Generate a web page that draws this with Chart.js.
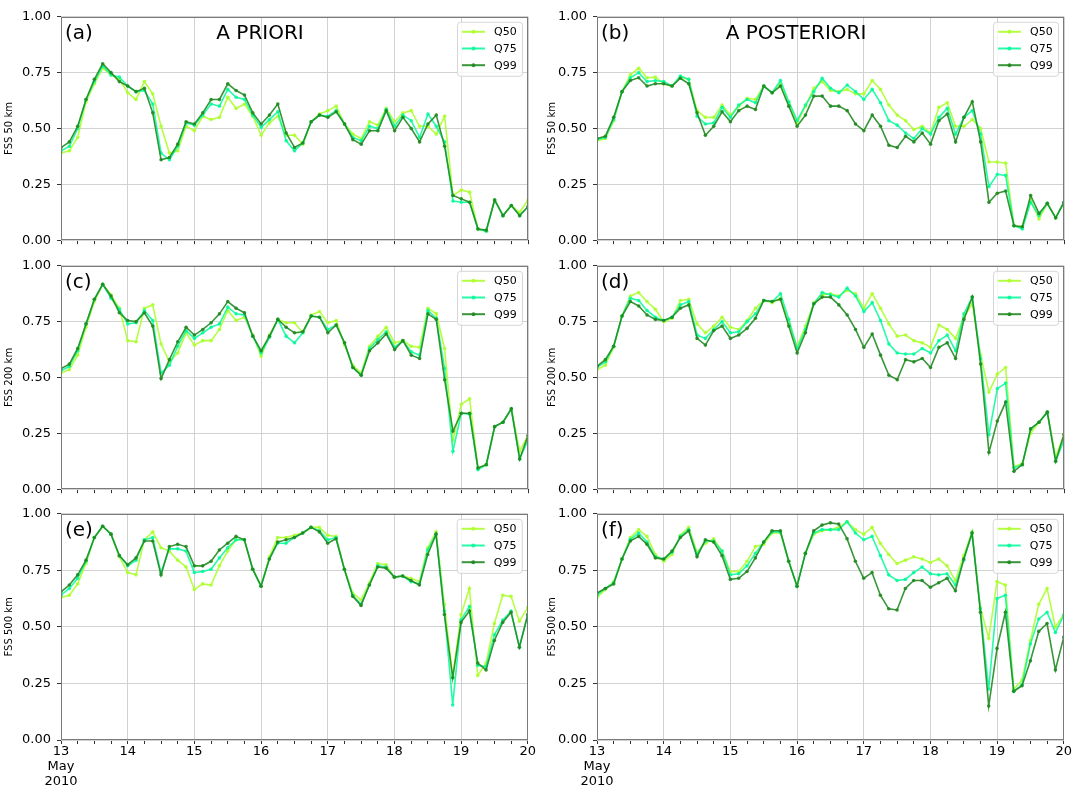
<!DOCTYPE html>
<html>
<head>
<meta charset="utf-8">
<script src="https://cdn.jsdelivr.net/npm/chart.js@4.4.0/dist/chart.umd.min.js"></script>
<style>
  body { margin: 0; background: #fff; width: 1072px; height: 790px; overflow: hidden; position: relative; }
  canvas { position: absolute; }
</style>
</head>
<body>
<canvas id="pa"></canvas>
<canvas id="pb"></canvas>
<canvas id="pc"></canvas>
<canvas id="pd"></canvas>
<canvas id="pe"></canvas>
<canvas id="pf"></canvas>
<script>
// Eje temporal: 13 a 20 de mayo 2010, datos cada 3 horas
const firstDay = 13;
const lastDay = 20;
const stepsPerDay = 8;
const yTicks = [0, 0.25, 0.5, 0.75, 1];
const seriesNames = ['Q50', 'Q75', 'Q99'];
const seriesColors = ['rgba(173,255,47,0.9)', 'rgba(0,250,154,0.85)', 'rgba(34,139,34,0.9)'];

// (a) A PRIORI, 50 km
const a_q50 = [0.39,0.40,0.46,0.62,0.70,0.77,0.74,0.72,0.66,0.63, 0.71,0.655,0.51,0.39,0.40,0.51,0.49,0.555,0.54,0.55, 0.64,0.59,0.61,0.555,0.47,0.525,0.555,0.47,0.47,
  0.43,0.53,0.565,0.58,0.60,0.52,0.475,0.455,0.53,0.515, 0.59,0.53,0.57,0.58,0.51,0.51,0.475,0.555,0.20,0.225, 0.215,0.05,0.04,0.18,0.11,0.155,0.125,0.18];
const a_q75 = [0.40,0.42,0.50,0.63,0.71,0.78,0.74,0.73,0.69,0.665, 0.67,0.61,0.39,0.36,0.42,0.525,0.515,0.56,0.61,0.60, 0.675,0.64,0.63,0.56,0.505,0.54,0.575,0.445,0.40,
  0.435,0.53,0.56,0.555,0.58,0.52,0.46,0.445,0.51,0.50, 0.585,0.51,0.56,0.535,0.46,0.565,0.51,0.44,0.175,0.17, 0.17,0.05,0.04,0.18,0.11,0.155,0.11,0.15];
const a_q99 = [0.414,0.44,0.51,0.63,0.72,0.79,0.75,0.71,0.69,0.665, 0.68,0.57,0.36,0.37,0.43,0.53,0.52,0.57,0.63,0.63, 0.70,0.67,0.65,0.57,0.52,0.56,0.61,0.48,0.415,
  0.435,0.53,0.56,0.55,0.575,0.52,0.45,0.43,0.49,0.49, 0.58,0.49,0.55,0.50,0.44,0.52,0.56,0.42,0.20,0.185, 0.17,0.05,0.045,0.18,0.11,0.155,0.11,0.15];

// (b) A POSTERIORI, 50 km
const b_q50 = [0.445,0.455,0.535,0.665,0.74,0.77,0.727,0.73,0.70,0.69, 0.73,0.72,0.58,0.55,0.55,0.605,0.56,0.60,0.635,0.63, 0.69,0.66,0.70,0.615,0.525,0.60,0.68,0.71,0.67,
  0.665,0.675,0.655,0.655,0.715,0.675,0.605,0.56,0.535,0.495, 0.51,0.48,0.595,0.615,0.51,0.51,0.54,0.50,0.35,0.35, 0.345,0.065,0.06,0.18,0.095,0.165,0.10,0.17];
const b_q75 = [0.45,0.46,0.54,0.665,0.727,0.75,0.71,0.715,0.71,0.69, 0.735,0.72,0.555,0.52,0.525,0.595,0.55,0.605,0.63,0.615, 0.69,0.66,0.715,0.62,0.535,0.605,0.665,0.725,0.68,
  0.66,0.695,0.665,0.63,0.675,0.615,0.535,0.515,0.48,0.455, 0.50,0.475,0.55,0.59,0.475,0.55,0.58,0.475,0.24,0.295, 0.29,0.065,0.05,0.17,0.11,0.165,0.10,0.17];
const b_q99 = [0.455,0.465,0.55,0.665,0.715,0.727,0.69,0.70,0.70,0.69, 0.725,0.70,0.57,0.47,0.51,0.575,0.53,0.58,0.60,0.585, 0.69,0.66,0.69,0.60,0.51,0.56,0.645,0.645,0.60,
  0.60,0.58,0.52,0.49,0.56,0.51,0.425,0.415,0.465,0.44, 0.48,0.43,0.535,0.565,0.44,0.55,0.62,0.44,0.17,0.21, 0.22,0.065,0.06,0.20,0.12,0.165,0.10,0.17];

// (c) A PRIORI, 200 km
const c_q50 = [0.52,0.535,0.60,0.725,0.84,0.917,0.87,0.81,0.665,0.66, 0.81,0.825,0.65,0.57,0.61,0.70,0.645,0.665,0.665,0.715, 0.80,0.755,0.77,0.69,0.595,0.69,0.76,0.745,0.745,
  0.70,0.78,0.795,0.745,0.755,0.645,0.555,0.52,0.64,0.685, 0.725,0.655,0.665,0.64,0.635,0.81,0.785,0.63,0.22,0.38, 0.405,0.095,0.11,0.28,0.30,0.36,0.17,0.24];
const c_q75 = [0.53,0.55,0.62,0.74,0.85,0.917,0.855,0.805,0.74,0.745, 0.80,0.755,0.52,0.555,0.64,0.71,0.675,0.70,0.725,0.74, 0.815,0.785,0.78,0.685,0.61,0.68,0.76,0.685,0.655,
  0.70,0.775,0.77,0.715,0.735,0.655,0.545,0.51,0.63,0.67, 0.705,0.635,0.665,0.615,0.60,0.80,0.765,0.54,0.17,0.34, 0.335,0.087,0.11,0.28,0.30,0.36,0.135,0.22];
const c_q99 = [0.54,0.56,0.63,0.74,0.85,0.917,0.865,0.79,0.755,0.75, 0.79,0.73,0.495,0.58,0.66,0.725,0.69,0.715,0.745,0.785, 0.84,0.81,0.79,0.685,0.62,0.685,0.76,0.725,0.70,
  0.705,0.775,0.77,0.70,0.735,0.655,0.545,0.51,0.62,0.655, 0.695,0.625,0.665,0.60,0.585,0.785,0.76,0.49,0.26,0.34, 0.34,0.095,0.11,0.28,0.30,0.36,0.135,0.24];

// (d) A POSTERIORI, 200 km
const d_q50 = [0.535,0.555,0.635,0.775,0.865,0.88,0.84,0.805,0.75,0.765, 0.845,0.85,0.74,0.70,0.73,0.77,0.725,0.715,0.755,0.81, 0.845,0.835,0.855,0.74,0.64,0.73,0.835,0.87,0.875,
  0.865,0.89,0.875,0.81,0.875,0.81,0.74,0.685,0.69,0.665, 0.655,0.635,0.735,0.715,0.675,0.77,0.83,0.60,0.435,0.515, 0.545,0.10,0.115,0.25,0.30,0.345,0.145,0.245];
const d_q75 = [0.545,0.57,0.64,0.775,0.855,0.845,0.80,0.77,0.755,0.77, 0.825,0.84,0.69,0.675,0.715,0.75,0.70,0.705,0.75,0.785, 0.845,0.84,0.875,0.76,0.63,0.715,0.83,0.88,0.87,
  0.86,0.90,0.865,0.795,0.835,0.755,0.65,0.61,0.605,0.605, 0.63,0.61,0.665,0.69,0.62,0.785,0.86,0.585,0.245,0.45, 0.475,0.095,0.11,0.27,0.30,0.345,0.125,0.22];
const d_q99 = [0.55,0.58,0.64,0.775,0.84,0.82,0.78,0.76,0.755,0.77, 0.81,0.825,0.675,0.645,0.71,0.73,0.675,0.69,0.72,0.765, 0.845,0.84,0.85,0.73,0.61,0.70,0.83,0.86,0.86,
  0.825,0.78,0.715,0.635,0.695,0.60,0.51,0.49,0.58,0.57, 0.585,0.545,0.635,0.655,0.585,0.76,0.86,0.56,0.165,0.305, 0.39,0.08,0.11,0.27,0.30,0.345,0.125,0.245];

// (e) A PRIORI, 500 km
const e_q50 = [0.63,0.64,0.69,0.78,0.895,0.945,0.91,0.81,0.74,0.73, 0.885,0.92,0.85,0.835,0.795,0.765,0.665,0.69,0.685,0.77, 0.835,0.885,0.885,0.755,0.68,0.81,0.895,0.895,0.905,
  0.915,0.94,0.94,0.905,0.90,0.755,0.65,0.62,0.695,0.78, 0.775,0.72,0.725,0.715,0.70,0.85,0.92,0.60,0.28,0.555, 0.67,0.285,0.34,0.515,0.64,0.635,0.525,0.585];
const e_q75 = [0.64,0.67,0.715,0.79,0.895,0.945,0.91,0.815,0.77,0.795, 0.885,0.895,0.74,0.845,0.845,0.835,0.74,0.745,0.755,0.805, 0.85,0.885,0.885,0.755,0.68,0.80,0.87,0.87,0.895,
  0.915,0.94,0.925,0.885,0.895,0.755,0.64,0.60,0.685,0.77, 0.765,0.72,0.725,0.70,0.69,0.84,0.91,0.57,0.155,0.53, 0.59,0.33,0.325,0.465,0.53,0.57,0.41,0.55];
const e_q99 = [0.655,0.685,0.73,0.795,0.895,0.945,0.91,0.815,0.775,0.805, 0.88,0.88,0.73,0.855,0.865,0.855,0.77,0.77,0.79,0.84, 0.87,0.90,0.885,0.755,0.68,0.80,0.875,0.885,0.895,
  0.915,0.94,0.92,0.87,0.89,0.755,0.635,0.595,0.685,0.765, 0.76,0.72,0.725,0.705,0.685,0.82,0.91,0.555,0.275,0.52, 0.57,0.34,0.31,0.44,0.52,0.565,0.41,0.555];

// (f) A POSTERIORI, 500 km
const f_q50 = [0.63,0.665,0.70,0.80,0.895,0.93,0.90,0.82,0.79,0.82, 0.905,0.94,0.83,0.87,0.89,0.835,0.745,0.745,0.79,0.855, 0.865,0.915,0.915,0.79,0.68,0.825,0.91,0.925,0.93,
  0.94,0.965,0.93,0.91,0.94,0.87,0.82,0.78,0.795,0.81, 0.80,0.785,0.80,0.77,0.705,0.815,0.92,0.585,0.45,0.70, 0.685,0.225,0.265,0.44,0.60,0.67,0.50,0.555];
const f_q75 = [0.64,0.67,0.695,0.80,0.887,0.915,0.875,0.81,0.80,0.83, 0.90,0.93,0.82,0.88,0.88,0.835,0.73,0.735,0.77,0.825, 0.875,0.92,0.92,0.79,0.68,0.825,0.915,0.93,0.93,
  0.93,0.965,0.915,0.885,0.90,0.815,0.73,0.705,0.71,0.74, 0.765,0.735,0.73,0.735,0.685,0.795,0.915,0.58,0.225,0.625, 0.64,0.215,0.245,0.425,0.535,0.565,0.475,0.55];
const f_q99 = [0.65,0.67,0.69,0.80,0.88,0.90,0.865,0.805,0.80,0.835, 0.895,0.925,0.81,0.885,0.875,0.815,0.71,0.715,0.745,0.805, 0.875,0.925,0.925,0.79,0.68,0.825,0.925,0.95,0.96,
  0.955,0.89,0.79,0.715,0.74,0.64,0.58,0.575,0.67,0.705, 0.705,0.675,0.695,0.715,0.66,0.80,0.915,0.565,0.15,0.405, 0.565,0.215,0.24,0.35,0.48,0.515,0.31,0.455];

Chart.defaults.font.family = '"DejaVu Sans", sans-serif';
Chart.defaults.color = '#000';

// Geometría de los paneles (columnas y filas)
const colLeft = [0, 536];
const colWidth = 536;
const rowTop = [13, 262, 510];
const rowHeight = [229, 229, 230];
const rowAxis = [12, 12, 50];
const padTop = 10;

// Marco, letra, título y leyenda dentro del área del gráfico
const panelDecor = {
  id: 'panelDecor',
  afterDraw(chart, args, opts) {
    const { ctx, chartArea: a } = chart;
    ctx.save();
    ctx.strokeStyle = '#7a7a7a';
    ctx.lineWidth = 1;
    ctx.strokeRect(Math.round(a.left) + 0.5, Math.round(a.top) + 0.5, Math.round(a.width) - 1, Math.round(a.height) - 1);

    ctx.fillStyle = '#000';
    ctx.font = '20px "DejaVu Sans"';
    ctx.textBaseline = 'middle';
    ctx.textAlign = 'left';
    ctx.fillText(opts.letter, a.left + 4, a.top + 17);
    if (opts.title) {
      ctx.textAlign = 'center';
      ctx.fillText(opts.title, a.left + 199, a.top + 17);
    }

    // leyenda
    const bw = 65, bh = 54;
    const bx = a.right - 6 - bw, by = a.top + 5;
    ctx.beginPath();
    ctx.roundRect(bx + 0.5, by + 0.5, bw, bh, 3);
    ctx.fillStyle = 'rgba(255,255,255,0.8)';
    ctx.fill();
    ctx.strokeStyle = '#d6d6d6';
    ctx.stroke();
    ctx.font = '11px "DejaVu Sans"';
    ctx.textAlign = 'left';
    seriesNames.forEach((name, k) => {
      const y = by + 10 + k * 16.7;
      ctx.strokeStyle = seriesColors[k];
      ctx.lineWidth = 2;
      ctx.beginPath();
      ctx.moveTo(bx + 5, y);
      ctx.lineTo(bx + 28, y);
      ctx.stroke();
      ctx.fillStyle = seriesColors[k];
      ctx.beginPath();
      ctx.arc(bx + 16.5, y, 2, 0, Math.PI * 2);
      ctx.fill();
      ctx.fillStyle = '#000';
      ctx.fillText(name, bx + 37, y + 0.5);
    });
    ctx.restore();
  }
};

const panels = [
  { id: 'pa', col: 0, row: 0, letter: '(a)', title: 'A PRIORI', ylabel: 'FSS 50 km', series: [a_q50, a_q75, a_q99] },
  { id: 'pb', col: 1, row: 0, letter: '(b)', title: 'A POSTERIORI', ylabel: 'FSS 50 km', series: [b_q50, b_q75, b_q99] },
  { id: 'pc', col: 0, row: 1, letter: '(c)', title: '', ylabel: 'FSS 200 km', series: [c_q50, c_q75, c_q99] },
  { id: 'pd', col: 1, row: 1, letter: '(d)', title: '', ylabel: 'FSS 200 km', series: [d_q50, d_q75, d_q99] },
  { id: 'pe', col: 0, row: 2, letter: '(e)', title: '', ylabel: 'FSS 500 km', series: [e_q50, e_q75, e_q99] },
  { id: 'pf', col: 1, row: 2, letter: '(f)', title: '', ylabel: 'FSS 500 km', series: [f_q50, f_q75, f_q99] }
];

function crearPanel(p) {
  const canvas = document.getElementById(p.id);
  const h = padTop + rowHeight[p.row] + rowAxis[p.row];
  canvas.width = colWidth;
  canvas.height = h;
  canvas.style.left = colLeft[p.col] + 'px';
  canvas.style.top = (rowTop[p.row] - padTop) + 'px';
  const showX = p.row === 2;

  const datasets = p.series.map((vals, k) => ({
    label: seriesNames[k],
    data: vals.map((v, i) => ({ x: firstDay + i / stepsPerDay, y: v })),
    borderColor: seriesColors[k],
    backgroundColor: seriesColors[k],
    borderWidth: 1.6,
    pointRadius: 1.8,
    pointBorderWidth: 0,
    tension: 0,
    order: 2 - k
  }));

  new Chart(canvas, {
    type: 'line',
    data: { datasets: datasets },
    options: {
      responsive: false,
      animation: false,
      devicePixelRatio: 1,
      layout: { padding: { left: 0, right: 8, top: padTop, bottom: 0 } },
      plugins: {
        legend: { display: false },
        tooltip: { enabled: false },
        panelDecor: { letter: p.letter, title: p.title }
      },
      scales: {
        x: {
          type: 'linear',
          min: firstDay,
          max: lastDay,
          afterFit: s => { s.height = rowAxis[p.row]; },
          border: { display: false },
          grid: {
            color: c => Number.isInteger(c.tick.value) ? '#d2d2d2' : 'rgba(0,0,0,0)',
            tickColor: '#333',
            tickLength: 4
          },
          ticks: {
            stepSize: 0.25,
            autoSkip: false,
            maxRotation: 0,
            display: showX,
            padding: 0,
            font: { size: 13, lineHeight: 1.15 },
            callback: v => {
              if (!Number.isInteger(v)) return '';
              return v === firstDay ? [String(v), 'May', '2010'] : String(v);
            }
          }
        },
        y: {
          min: 0,
          max: 1,
          afterFit: s => { s.width = 61; },
          afterBuildTicks: s => { s.ticks = yTicks.map(v => ({ value: v })); },
          border: { display: false },
          grid: { color: '#d2d2d2', tickColor: '#333', tickLength: 4 },
          ticks: {
            padding: 6,
            font: { size: 13 },
            callback: v => v.toFixed(2)
          },
          title: {
            display: true,
            text: p.ylabel,
            font: { size: 10 },
            padding: { top: p.col === 0 ? 3 : 10, bottom: 0 }
          }
        }
      }
    },
    plugins: [panelDecor]
  });
}

panels.forEach(crearPanel);
</script>
</body>
</html>
